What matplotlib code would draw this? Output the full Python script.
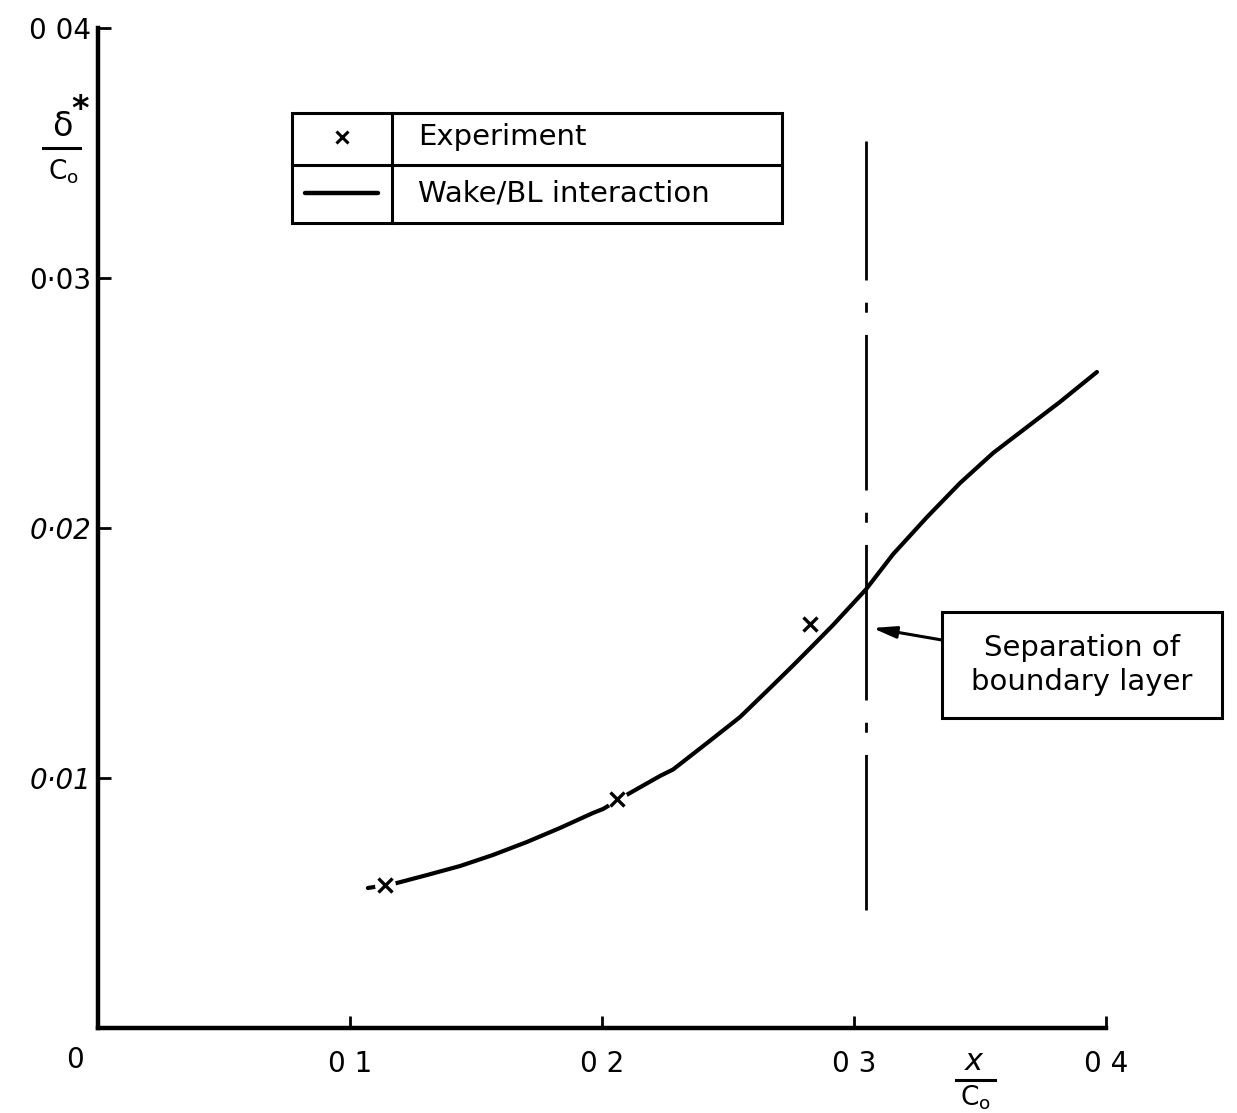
import matplotlib
matplotlib.use("Agg")
import matplotlib.pyplot as plt
from matplotlib.patches import Rectangle
from matplotlib.lines import Line2D

plt.rcParams['font.family'] = ['DejaVu Sans']
plt.rcParams['mathtext.fontset'] = 'dejavusans'

# ---- data ----
curve_x = [0.1071, 0.1171, 0.1306, 0.1437, 0.1567, 0.1702, 0.1833, 0.1964,
           0.2004, 0.2111, 0.2230, 0.2282, 0.2417, 0.2548, 0.2679, 0.2758,
           0.2837, 0.2917, 0.3016, 0.3048, 0.3155, 0.3290, 0.3421, 0.3552,
           0.3687, 0.3817, 0.3964]
curve_y = [0.00560, 0.00576, 0.00612, 0.00648, 0.00692, 0.00744, 0.00800, 0.00860,
           0.00876, 0.00940, 0.01008, 0.01034, 0.01140, 0.01244, 0.01372, 0.01450,
           0.01530, 0.01612, 0.01720, 0.01755, 0.01895, 0.02044, 0.02180, 0.02300,
           0.02404, 0.02504, 0.02624]
exp_x = [0.1139, 0.2060, 0.2825]
exp_y = [0.00572, 0.00916, 0.01616]
sep_x = [0.3048, 0.3048]
sep_y = [0.00472, 0.0355]
xticks = [0.1, 0.2, 0.3, 0.4]
xtick_labels = ['0 1', '0 2', '0 3', '0 4']
yticks = [0.01, 0.02, 0.03, 0.04]
ytick_labels = ['0·01', '0·02', '0·03', '0 04']

W, H = 1237, 1113
fig = plt.figure(figsize=(W / 100, H / 100), dpi=100)
ax = fig.add_axes([98 / W, 1 - 1028 / H, (1106 - 98) / W, (1028 - 28) / H])
ax.set_xlim(0, 0.4)
ax.set_ylim(0, 0.04)
for s in ['top', 'right']:
    ax.spines[s].set_visible(False)
for s in ['left', 'bottom']:
    ax.spines[s].set_linewidth(3.2)
    ax.spines[s].set_capstyle('projecting')

ax.set_xticks(xticks)
ax.set_xticklabels(xtick_labels)
ax.set_yticks(yticks)
ax.set_yticklabels(ytick_labels)
ax.tick_params(axis='both', direction='in', length=9, width=2, labelsize=20)
ax.tick_params(axis='x', pad=16)
ax.tick_params(axis='y', pad=5)
for lbl in ax.get_yticklabels()[:2]:
    lbl.set_style('italic')

def P(x, y):
    return (x / W, 1 - y / H)

# origin label
fig.text(*P(75, 1060), '0', fontsize=20, ha='center', va='center')

# curve and experimental points
ax.plot(curve_x, curve_y, color='black', lw=3.0, solid_capstyle='round',
        solid_joinstyle='round', zorder=3)
ax.plot(exp_x[:2], exp_y[:2], linestyle='none', marker='o', ms=15,
        mfc='white', mec='none', zorder=4)
ax.plot(exp_x, exp_y, linestyle='none', marker='x', ms=10, mew=2.4,
        color='black', zorder=5)

# separation line (dash-dot)
ax.plot(sep_x, sep_y, color='black', lw=2.0,
        linestyle=(0, (56, 8, 3.6, 8)), zorder=2)

# annotation box and arrow
bx0, bx1 = (942 - 98) / 2520, (1222 - 98) / 2520
by0, by1 = (1028 - 718) / 25000, (1028 - 612) / 25000
ax.add_patch(Rectangle((bx0, by0), bx1 - bx0, by1 - by0, fill=False,
                       lw=2.2, ec='black', clip_on=False, zorder=6))
ax.text((bx0 + bx1) / 2, (by0 + by1) / 2, 'Separation of\nboundary layer',
        ha='center', va='center', fontsize=21, linespacing=1.3, clip_on=False)
ax.annotate('', xy=(sep_x[0] + 0.0025, 0.0160), xytext=(bx0, 0.01552),
            arrowprops=dict(arrowstyle='-|>,head_length=1.4,head_width=0.35',
                            color='black', lw=2.2, shrinkA=0, shrinkB=0))

# legend table
lx0, lx1, lxm = 292, 782, 392
ly0, ly1, lym = 113, 223, 165
(fx0, fy0), (fx1, fy1) = P(lx0, ly1), P(lx1, ly0)
fig.patches.append(Rectangle((fx0, fy0), fx1 - fx0, fy1 - fy0, fill=False,
                             lw=2.2, ec='black', transform=fig.transFigure))
fig.lines.append(Line2D([lxm / W, lxm / W], [fy0, fy1], color='black', lw=2.2,
                        transform=fig.transFigure))
fig.lines.append(Line2D([fx0, fx1], [P(0, lym)[1]] * 2, color='black', lw=2.2,
                        transform=fig.transFigure))
fig.lines.append(Line2D([305 / W, 378 / W], [P(0, 193)[1]] * 2, color='black',
                        lw=3.2, solid_capstyle='round', transform=fig.transFigure))
fig.lines.append(Line2D([342 / W], [P(0, 137)[1]], color='black', marker='x',
                        ms=8, mew=2.2, transform=fig.transFigure))
fig.text(*P(418, 137), 'Experiment', fontsize=21, ha='left', va='center')
fig.text(*P(418, 193), 'Wake/BL interaction', fontsize=21, ha='left', va='center')

# axis labels as fractions
fig.text(*P(62, 127), 'δ', fontsize=24, ha='center', va='center')
fig.text(*P(80, 110), '*', fontsize=24, fontweight='bold', ha='center', va='center')
fig.lines.append(Line2D([43 / W, 80 / W], [P(0, 148)[1]] * 2, color='black', lw=2.2,
                        transform=fig.transFigure))
fig.text(*P(63, 172), r'C$_{\mathregular{o}}$', fontsize=19, ha='center', va='center')

fig.text(*P(975, 1062), r'$x$', fontsize=22, ha='center', va='center')
fig.lines.append(Line2D([956 / W, 995 / W], [P(0, 1080)[1]] * 2, color='black', lw=2.2,
                        transform=fig.transFigure))
fig.text(*P(975, 1098), r'C$_{\mathregular{o}}$', fontsize=19, ha='center', va='center')

fig.savefig('out.png', dpi=100, facecolor='white')
